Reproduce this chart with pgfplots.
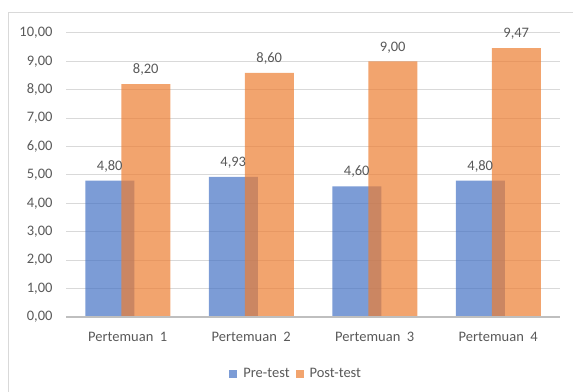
\documentclass[border=0pt]{standalone}
\usepackage{fontspec}
\setmainfont{Carlito}
\usepackage{pgfplots}
\pgfplotsset{compat=1.18}
\definecolor{txt}{RGB}{89,89,89}
\definecolor{gridc}{RGB}{217,217,217}
\definecolor{axl}{RGB}{191,191,191}
\definecolor{pre}{RGB}{68,114,196}
\definecolor{post}{RGB}{237,125,49}
\begin{document}
\begin{tikzpicture}
\path[use as bounding box] (0bp,0bp) rectangle (573bp,392bp);
\draw[gridc, line width=1bp] (8.5bp,0bp) -- (8.5bp,379.5bp) -- (573bp,379.5bp);
\begin{axis}[
  at={(66bp,75bp)}, anchor=south west,
  scale only axis, width=494bp, height=284bp,
  xmin=-0.5, xmax=3.5, ymin=0, ymax=10,
  ytick={0,1,...,10},
  xtick={0,1,2,3},
  xticklabels={Pertemuan\ \ 1,Pertemuan\ \ 2,Pertemuan\ \ 3,Pertemuan\ \ 4},
  ymajorgrids, major grid style={gridc, line width=1bp},
  axis line style={draw=none},
  major tick length=0pt,
  tick style={draw=none},
  tick label style={font=\fontsize{14.5bp}{17bp}\selectfont, text=txt},
  yticklabel style={xshift=-10bp},
  xticklabel style={yshift=-12bp},
  /pgf/number format/.cd, fixed, fixed zerofill, precision=2, use comma, assume math mode=true,
  /pgfplots/.cd,
  ybar, bar width=49bp,
  nodes near coords,
  every node near coord/.append style={font=\fontsize{14.5bp}{17bp}\selectfont, text=txt, fill opacity=1, text opacity=1, yshift=5bp},
  clip=false,
  legend style={at={(0.466,-0.2)}, anchor=center, draw=none, fill=none,
    legend columns=2, font=\fontsize{14.5bp}{17bp}\selectfont, text=txt,
    /tikz/every odd column/.append style={column sep=4bp},
    /tikz/every even column/.append style={column sep=4bp}},
  legend image code/.code={\fill[#1] (0bp,-4bp) rectangle (8bp,4bp);},
]
\addplot[fill=pre, fill opacity=0.7, draw=none, bar shift=-18bp] coordinates {(0,4.80) (1,4.93) (2,4.60) (3,4.80)};
\addplot[fill=post, fill opacity=0.7, draw=none, bar shift=18bp] coordinates {(0,8.20) (1,8.60) (2,9.00) (3,9.47)};
\legend{Pre-test,Post-test}
\draw[axl, line width=2bp] (rel axis cs:0,0) -- (rel axis cs:1,0);
\end{axis}
\end{tikzpicture}
\end{document}
